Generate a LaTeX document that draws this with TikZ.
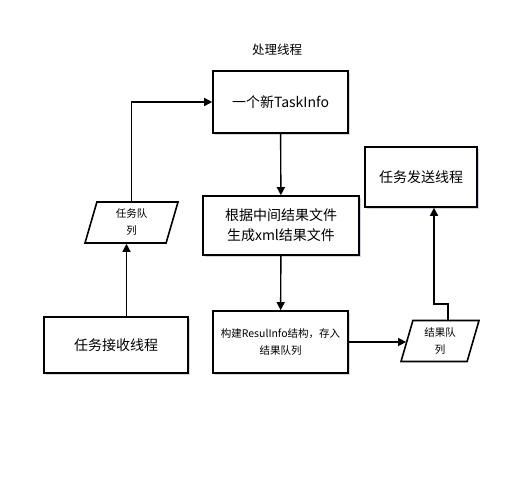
\documentclass[tikz,border=0pt]{standalone}
\usepackage{fontspec}
\setmainfont{Noto Sans CJK SC}
\usepackage{tikz}
\usetikzlibrary{arrows.meta,shapes.geometric,positioning,shadows}

\begin{document}
\begin{tikzpicture}[
  x=1pt, y=-1pt,
  every node/.style={font=\fontsize{14}{20}\selectfont},
  proc/.style={draw=black, line width=1.6pt, fill=white, align=center,
    drop shadow={shadow xshift=1.5pt, shadow yshift=-1.5pt, fill=blue!30!gray, opacity=0.25}},
  queue/.style={trapezium, trapezium stretches body, trapezium left angle=66,
    trapezium right angle=114, draw=black, line width=1.6pt, fill=white,
    align=center, minimum width=93pt, minimum height=41pt, inner sep=0pt,
    font=\fontsize{10.5}{17}\selectfont},
  arr/.style={line width=1.4pt, -{Triangle[length=8pt,width=8pt]}},
]
\useasboundingbox (0,0) rectangle (518,499);
\node[font=\fontsize{12.5}{14}\selectfont] (title) at (277,50) {处理线程};
\node[proc, minimum width=135pt, minimum height=62pt] (info) at (280.5,102) {一个新TaskInfo};
\node[proc, minimum width=156pt, minimum height=59pt] (gen) at (281,225.5) {根据中间结果文件\\生成xml结果文件};
\node[proc, minimum width=135pt, minimum height=62pt, font=\fontsize{10.5}{17}\selectfont] (build) at (280.5,342) {构建ResulInfo结构，存入\\结果队列};
\node[proc, minimum width=112pt, minimum height=60pt] (send) at (421,177) {任务发送线程};
\node[proc, minimum width=144pt, minimum height=56pt] (recv) at (116,345) {任务接收线程};
\node[queue] (tq) at (131.5,222.5) {任务队\\列};
\node[queue, minimum width=78pt] (rq) at (440,341) {结果队\\列};
% connectors
\coordinate (tqin) at ([xshift=-5pt]tq.south);
\draw[arr] (recv.north -| tqin) -- (tqin);
\draw[arr] (tq.north) |- (info.west);
\draw[arr] (info) -- (gen);
\draw[arr] (gen) -- (build);
\draw[arr] (build.east) -- (build.east -| rq.west);
\coordinate (rqout) at ([xshift=8pt]rq.north);
\coordinate (sendin) at ([xshift=13pt]send.south);
\draw[arr] (rqout) -- (rqout |- 0,304) -| (sendin);
\end{tikzpicture}
\end{document}
